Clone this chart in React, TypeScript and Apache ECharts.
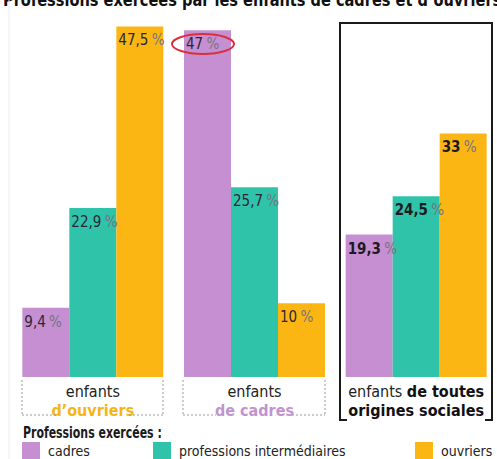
import React, { useEffect, useRef } from "react";
import * as echarts from "echarts";

const categories = ["d'ouvriers", "de cadres", "de toutes origines sociales"];
const seriesNames = ["cadres", "professions intermédiaires", "ouvriers"];
const cadres = [9.4, 47, 19.3];
const intermediaires = [22.9, 25.7, 24.5];
const ouvriers = [47.5, 10, 33];

const PURPLE = "#c68fd2";
const TEAL = "#2fc4a9";
const ORANGE = "#fcb614";
const NARROW = "'DejaVu Sans Condensed', 'Liberation Sans Narrow', sans-serif";

const fmt = (v: number) => String(v).replace(".", ",");

const labelCfg = {
  show: true,
  position: "insideTopLeft",
  distance: 2,
  padding: [3, 0, 0, 0],
  formatter: (p: any) =>
    p.dataIndex === 2 ? `{nb|${fmt(p.value)}} {p|%}` : `{n|${fmt(p.value)}} {p|%}`,
  rich: {
    n: { fontFamily: NARROW, fontSize: 15, lineHeight: 18, color: "#2b2638" },
    nb: { fontFamily: NARROW, fontSize: 15, lineHeight: 18, fontWeight: "bold", color: "#1c1a22" },
    p: { fontFamily: NARROW, fontSize: 15, lineHeight: 18, color: "#77737f" },
  },
};

export default function App() {
  const ref = useRef<HTMLDivElement>(null);
  useEffect(() => {
    const chart = echarts.init(ref.current!, null, { renderer: "svg" });
    const dotted = { stroke: "#9a9a9a", lineWidth: 1, lineDash: [2, 2] };
    const solid = { stroke: "#1a1a1a", lineWidth: 2 };
    const seg = (x1: number, y1: number, x2: number, y2: number, style: any) => ({
      type: "line",
      shape: { x1, y1, x2, y2 },
      style,
      silent: true,
      z: 100,
    });
    const axisRich = (extra: any) => ({
      fontFamily: NARROW,
      fontSize: 16,
      lineHeight: 19,
      ...extra,
    });
    chart.setOption({
      animation: false,
      grid: { left: 12, right: 0, top: 8, bottom: 82 },
      xAxis: {
        type: "category",
        data: categories,
        axisLine: { show: false },
        axisTick: { show: false },
        axisLabel: {
          margin: 5,
          interval: 0,
          formatter: (_v: string, i: number) => {
            if (i === 0) return "{a|enfants}\n{o|d’ouvriers}";
            if (i === 1) return "{a|enfants}\n{c|de cadres}";
            return "{a|enfants }{b|de toutes}\n{b|origines sociales}";
          },
          rich: {
            a: axisRich({ color: "#222" }),
            o: axisRich({ fontWeight: "bold", color: "#f4b51a" }),
            c: axisRich({ fontWeight: "bold", color: "#c293cf" }),
            b: axisRich({ fontWeight: "bold", color: "#111" }),
          },
        },
      },
      yAxis: { type: "value", min: 0, max: 50, show: false, splitLine: { show: false } },
      legend: seriesNames.map((n, i) => ({
        data: [n],
        left: [22, 153, 415][i],
        top: 442,
        padding: 0,
        icon: "rect",
        itemWidth: 18,
        itemHeight: 17,
        selectedMode: false,
        textStyle: { fontFamily: NARROW, fontSize: 14, color: "#222", padding: [0, 0, 0, 3] },
      })),
      series: [
        { name: seriesNames[0], type: "bar", data: cadres, color: PURPLE },
        { name: seriesNames[1], type: "bar", data: intermediaires, color: TEAL },
        { name: seriesNames[2], type: "bar", data: ouvriers, color: ORANGE },
      ].map((s) => ({ ...s, barWidth: 47, barGap: "0%", label: labelCfg })),
      graphic: [
        {
          type: "text",
          x: 3,
          y: -9,
          scaleX: 0.9,
          silent: true,
          z: 100,
          style: {
            text: "Professions exercées par les enfants de cadres et d’ouvriers",
            font: `bold 18px ${NARROW}`,
            fill: "#111",
          },
        },
        seg(9, 0, 9, 459, { stroke: "#e8eef2", lineWidth: 1 }),
        // bracket group 1
        seg(22, 380, 22, 415, dotted),
        seg(163, 380, 163, 415, dotted),
        seg(22, 415, 56, 415, dotted),
        seg(129, 415, 163, 415, dotted),
        // bracket group 2
        seg(183, 380, 183, 415, dotted),
        seg(325, 380, 325, 415, dotted),
        seg(183, 415, 216, 415, dotted),
        seg(292, 415, 325, 415, dotted),
        // box group 3
        seg(339, 23, 492, 23, solid),
        seg(340, 22, 340, 421, solid),
        seg(492, 22, 492, 421, solid),
        seg(339, 420, 347, 420, solid),
        seg(485, 420, 493, 420, solid),
        {
          type: "ellipse",
          shape: { cx: 203, cy: 44, rx: 31, ry: 10 },
          style: { fill: "none", stroke: "#d8303c", lineWidth: 2 },
          silent: true,
          z: 100,
        },
        {
          type: "text",
          x: 23,
          y: 424,
          scaleX: 0.76,
          silent: true,
          z: 100,
          style: { text: "Professions exercées :", font: `bold 16px ${NARROW}`, fill: "#1a1a1a" },
        },
      ],
    });
    return () => chart.dispose();
  }, []);
  return (
    <div
      ref={ref}
      style={{ position: "absolute", left: 0, top: 0, width: 497, height: 459, background: "#fff" }}
    />
  );
}
